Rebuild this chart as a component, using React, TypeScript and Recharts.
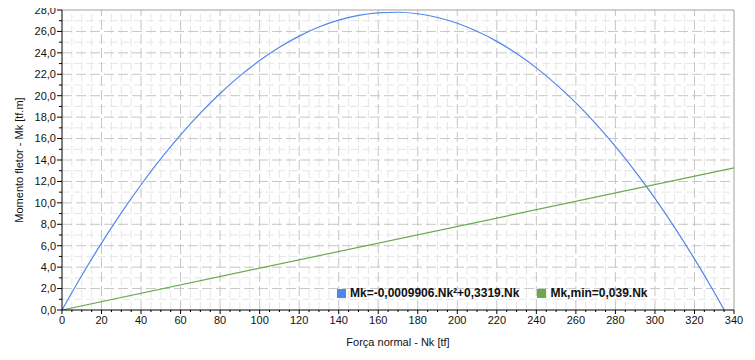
import React from 'react';
import { LineChart, Line, XAxis, YAxis, ReferenceLine, Legend, Label } from 'recharts';

// Blue curve: Mk = -0,0009906.Nk² + 0,3319.Nk
const nkCurve = [0, 10, 20, 30, 40, 50, 60, 70, 80, 90, 100, 110, 120, 130, 140, 150, 160, 170, 180, 190, 200, 210, 220, 230, 240, 250, 260, 270, 280, 290, 300, 310, 320, 330, 335];
const mkCurve = [0, 3.22, 6.24, 9.07, 11.69, 14.12, 16.35, 18.38, 20.21, 21.85, 23.28, 24.52, 25.56, 26.41, 27.05, 27.5, 27.74, 27.79, 27.65, 27.3, 26.76, 26.01, 25.07, 23.93, 22.6, 21.06, 19.33, 17.4, 15.27, 12.94, 10.42, 7.69, 4.77, 1.65, 0.02];

// Green line: Mk,min = 0,039.Nk
const nkMin = [0, 340];
const mkMin = [0, 13.26];

const seriesNames = ['Mk=-0,0009906.Nk²+0,3319.Nk', 'Mk,min=0,039.Nk'];
const seriesColors = ['#4f87ea', '#6aa84f'];

const xTicks = Array.from({ length: 69 }, (_, i) => i * 5);
const yTicks = Array.from({ length: 29 }, (_, i) => i);
const xMajorGrid = [20, 40, 60, 80, 100, 120, 140, 160, 180, 200, 220, 240, 260, 280, 300, 320];
const yMajorGrid = [2, 4, 6, 8, 10, 12, 14, 16, 18, 20, 22, 24, 26];
const xMinorGrid = xTicks.filter((v) => v % 20 !== 0 && v < 340);
const yMinorGrid = yTicks.filter((v) => v % 2 !== 0);

const curveData = nkCurve.map((nk, i) => ({ nk, mk: mkCurve[i] }));
const minData = nkMin.map((nk, i) => ({ nk, mk: mkMin[i] }));

const FONT = '"Liberation Sans", Arial, sans-serif';

const XTick = (props: any) => {
  const { x, y, payload } = props;
  const v = payload.value;
  const major = v % 20 === 0;
  return (
    <g>
      <line x1={x} x2={x} y1={y} y2={y + (major ? 4 : 2)} stroke="#000" />
      {major && (
        <text x={x} y={y + 14} textAnchor="middle" fontSize={11} fontFamily={FONT} fill="#111">
          {v}
        </text>
      )}
    </g>
  );
};

const YTick = (props: any) => {
  const { x, y, payload } = props;
  const v = payload.value;
  const major = v % 2 === 0;
  return (
    <g>
      <line x1={x - (major ? 5 : 3)} x2={x} y1={y} y2={y} stroke="#000" />
      {major && (
        <text x={x - 6} y={y} dy="0.35em" textAnchor="end" fontSize={11} fontFamily={FONT} fill="#111">
          {v.toFixed(1).replace('.', ',')}
        </text>
      )}
    </g>
  );
};

const renderLegend = () => (
  <div style={{ display: 'flex', alignItems: 'center', fontFamily: FONT, fontWeight: 'bold', fontSize: 12, color: '#111', whiteSpace: 'nowrap', height: 16 }}>
    {seriesNames.map((name, i) => (
      <div key={name} style={{ display: 'flex', alignItems: 'center', marginRight: 18 }}>
        <span style={{ width: 9, height: 9, background: seriesColors[i], display: 'inline-block', marginRight: 4 }} />
        <span>{name}</span>
      </div>
    ))}
  </div>
);

export default function App() {
  return (
    <div style={{ width: 755, height: 360, background: '#fff', margin: '-8px 0 0 -8px' }}>
      <LineChart width={755} height={360} margin={{ top: 10, right: 21, left: 8, bottom: 10 }}>
        <XAxis
          dataKey="nk"
          type="number"
          domain={[0, 340]}
          ticks={xTicks}
          interval={0}
          tickSize={0}
          tickMargin={0}
          tickLine={false}
          axisLine={{ stroke: '#000' }}
          tick={<XTick />}
          height={40}
          allowDataOverflow
        >
          <Label value="Força normal - Nk [tf]" position="insideBottom" offset={4} style={{ fontFamily: FONT, fontSize: 11, fill: '#111' }} />
        </XAxis>
        <YAxis
          type="number"
          domain={[0, 28]}
          ticks={yTicks}
          interval={0}
          tickSize={0}
          tickMargin={0}
          tickLine={false}
          axisLine={{ stroke: '#000' }}
          tick={<YTick />}
          width={54}
          allowDataOverflow
        >
          <Label value="Momento fletor - Mk [tf.m]" angle={-90} position="insideLeft" offset={11} style={{ fontFamily: FONT, fontSize: 11, fill: '#111', textAnchor: 'middle' }} />
        </YAxis>
        {xMinorGrid.map((v) => (
          <ReferenceLine key={'xm' + v} x={v} stroke="#e6e6e6" strokeDasharray="8 4" />
        ))}
        {yMinorGrid.map((v) => (
          <ReferenceLine key={'ym' + v} y={v} stroke="#e6e6e6" strokeDasharray="8 4" />
        ))}
        {xMajorGrid.map((v) => (
          <ReferenceLine key={'xM' + v} x={v} stroke="#c6c6c6" strokeDasharray="10 4" />
        ))}
        {yMajorGrid.map((v) => (
          <ReferenceLine key={'yM' + v} y={v} stroke="#c6c6c6" strokeDasharray="10 4" />
        ))}
        <ReferenceLine y={28} stroke="#a0a0a0" />
        <ReferenceLine x={340} stroke="#a0a0a0" />
        <Legend
          content={renderLegend}
          layout="horizontal"
          verticalAlign="middle"
          align="center"
          wrapperStyle={{ left: 337, top: 285, width: 'auto' }}
        />
        <Line data={curveData} dataKey="mk" type="monotone" stroke={seriesColors[0]} strokeWidth={1.2} dot={false} isAnimationActive={false} name={seriesNames[0]} />
        <Line data={minData} dataKey="mk" type="linear" stroke={seriesColors[1]} strokeWidth={1.2} dot={false} isAnimationActive={false} name={seriesNames[1]} />
      </LineChart>
    </div>
  );
}
